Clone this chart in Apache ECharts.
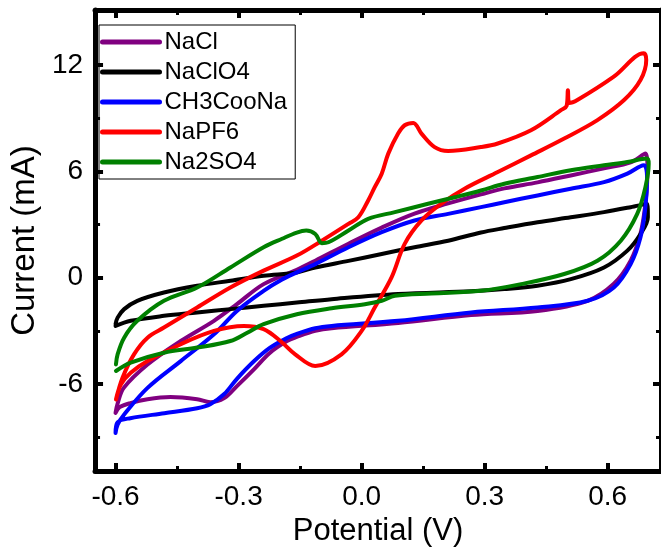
<!DOCTYPE html>
<html>
<head>
<meta charset="utf-8">
<script src="https://cdn.jsdelivr.net/npm/echarts@6/dist/echarts.min.js"></script>
<style>
  html, body { margin: 0; padding: 0; background: #fff; }
  #chart { width: 661px; height: 552px; }
</style>
</head>
<body>
<div id="chart"></div>
<script>
const naclV = [-0.600, -0.595, -0.580, -0.522, -0.441, -0.360, -0.304, -0.239, -0.158, -0.113, -0.032, 0.049, 0.129, 0.211, 0.291, 0.348, 0.429, 0.510, 0.591, 0.656, 0.692,
  0.697, 0.692, 0.680, 0.656, 0.615, 0.551, 0.429, 0.267, 0.089, -0.073, -0.113, -0.158, -0.182, -0.224, -0.262, -0.304, -0.335, -0.369, -0.401, -0.466, -0.522, -0.564, -0.590, -0.600]
const naclI = [-7.62, -7.10, -6.21, -4.89, -3.57, -2.43, -1.49, -0.36, 0.45, 0.96, 1.92, 2.83, 3.62, 4.19, 4.70, 5.04, 5.38, 5.77, 6.17, 6.50, 7.00,
  6.06, 4.19, 2.49, 0.96, -0.34, -1.30, -1.87, -2.10, -2.55, -2.85, -3.00, -3.34, -3.57, -4.24, -5.15, -6.11, -6.79, -7.02, -6.85, -6.73, -6.85, -7.07, -7.30, -7.62]

const naclo4V = [-0.600, -0.595, -0.579, -0.547, -0.482, -0.401, -0.320, -0.239, -0.158, -0.113, -0.032, 0.049, 0.129, 0.211, 0.291, 0.348, 0.429, 0.510, 0.591, 0.656, 0.696,
  0.698, 0.680, 0.648, 0.591, 0.510, 0.429, 0.348, 0.267, 0.089, -0.073, -0.158, -0.239, -0.320, -0.401, -0.482, -0.563, -0.600]
const naclo4I = [-2.62, -2.25, -1.77, -1.30, -0.83, -0.45, -0.17, 0.11, 0.30, 0.58, 0.95, 1.34, 1.72, 2.09, 2.55, 2.80, 3.13, 3.41, 3.70, 3.98, 4.17,
  3.41, 2.47, 1.53, 0.58, -0.08, -0.45, -0.64, -0.76, -0.92, -1.21, -1.40, -1.58, -1.77, -1.96, -2.15, -2.43, -2.72]

const acetateV = [-0.600, -0.595, -0.579, -0.522, -0.441, -0.360, -0.304, -0.239, -0.194, -0.158, -0.113, -0.032, 0.049, 0.129, 0.211, 0.291, 0.348, 0.429, 0.510, 0.591, 0.648, 0.688,
  0.696, 0.692, 0.680, 0.656, 0.615, 0.551, 0.429, 0.267, 0.089, -0.073, -0.113, -0.158, -0.182, -0.224, -0.262, -0.304, -0.335, -0.369, -0.401, -0.481, -0.564, -0.595, -0.600]
const acetateI = [-8.76, -8.28, -7.71, -6.21, -4.70, -3.19, -1.87, -0.74, -0.10, 0.30, 0.77, 1.72, 2.57, 3.23, 3.60, 3.98, 4.26, 4.64, 5.02, 5.39, 5.87, 6.34,
  5.68, 3.98, 2.28, 0.77, -0.55, -1.30, -1.68, -1.96, -2.43, -2.72, -2.85, -3.17, -3.40, -3.96, -4.70, -5.70, -6.56, -7.13, -7.36, -7.64, -7.92, -8.15, -8.76]

const napf6V = [-0.599, -0.583, -0.555, -0.522, -0.482, -0.401, -0.320, -0.239, -0.158, -0.097, -0.032, -0.008, 0.016, 0.032, 0.049, 0.065, 0.089, 0.105, 0.126, 0.146, 0.178, 0.211, 0.291, 0.332, 0.413, 0.486, 0.500, 0.503, 0.506, 0.526, 0.615, 0.688,
  0.694, 0.680, 0.640, 0.575, 0.494, 0.413, 0.332, 0.251, 0.194, 0.146, 0.105, 0.073, 0.032, 0.000, -0.049, -0.113, -0.162, -0.198, -0.239, -0.287, -0.360, -0.441, -0.522, -0.563, -0.587, -0.599]
const napf6I = [-6.87, -5.64, -4.32, -3.38, -2.81, -1.68, -0.55, 0.40, 1.25, 2.09, 3.04, 3.41, 4.36, 5.11, 5.87, 7.00, 8.13, 8.60, 8.73, 8.13, 7.37, 7.15, 7.37, 7.57, 8.32, 9.45, 9.70, 10.58, 9.85, 10.02, 11.34, 12.66,
  12.28, 11.15, 10.02, 8.89, 7.85, 6.90, 5.96, 5.02, 4.17, 3.23, 1.91, 0.02, -1.68, -3.00, -4.32, -4.98, -4.32, -3.57, -2.90, -2.72, -3.00, -3.75, -4.70, -5.36, -6.02, -6.87]

const na2so4V = [-0.599, -0.595, -0.579, -0.547, -0.482, -0.401, -0.320, -0.239, -0.194, -0.158, -0.135, -0.113, -0.097, -0.081, -0.032, 0.016, 0.081, 0.162, 0.227, 0.291, 0.348, 0.429, 0.510, 0.591, 0.648, 0.696,
  0.700, 0.692, 0.672, 0.632, 0.575, 0.494, 0.389, 0.291, 0.170, 0.081, 0.049, 0.008, -0.073, -0.158, -0.239, -0.279, -0.320, -0.401, -0.482, -0.563, -0.599]
const na2so4I = [-4.89, -4.32, -3.38, -2.43, -1.30, -0.55, 0.58, 1.72, 2.20, 2.55, 2.66, 2.47, 1.95, 2.00, 2.66, 3.32, 3.70, 4.17, 4.54, 4.92, 5.30, 5.68, 6.06, 6.34, 6.53, 6.72,
  6.43, 5.11, 3.60, 2.09, 0.96, 0.21, -0.36, -0.74, -0.89, -1.02, -1.30, -1.49, -1.72, -2.06, -2.62, -3.10, -3.57, -3.94, -4.23, -4.79, -5.26]

const names = ["NaCl", "NaClO4", "CH3CooNa", "NaPF6", "Na2SO4"]
const colors = ["#800080", "#000000", "#0000ff", "#ff0000", "#008000"]

const xMajor = [-0.6, -0.3, 0, 0.3, 0.6]
const xMinor = [-0.45, -0.15, 0.15, 0.45]
const yMajor = [-6, 0, 6, 12]
const yMinor = [-9, -3, 3, 9]

const xMin = -0.65, xMax = 0.73
const yMin = -10.9, yMax = 15.1
const font = "Liberation Sans, Arial, sans-serif"

const pairs = (vs, is) => vs.map((v, k) => [v, is[k]])
const loops = [
  pairs(naclV, naclI),
  pairs(naclo4V, naclo4I),
  pairs(acetateV, acetateI),
  pairs(napf6V, napf6I),
  pairs(na2so4V, na2so4I)
]

// frame side: line + major ticks, or minor ticks only
const side = (dim, position, ticks, len, tickWidth, major) => ({
  type: "value",
  position: position,
  min: dim === "x" ? xMin : yMin,
  max: dim === "x" ? xMax : yMax,
  axisLine: { show: major, onZero: false, lineStyle: { color: "#000", width: 5 } },
  axisTick: { show: true, inside: true, length: len, customValues: ticks, lineStyle: { color: "#000", width: tickWidth } },
  axisLabel: { show: false },
  splitLine: { show: false }
})

const bottom = side("x", "bottom", xMajor, 8, 4, true)
bottom.name = "Potential (V)"
bottom.nameLocation = "middle"
bottom.nameGap = 40
bottom.nameTextStyle = { fontSize: 31, color: "#000", fontFamily: font }
bottom.axisLabel = { show: true, customValues: xMajor, formatter: (v) => v.toFixed(1), fontSize: 28, color: "#000", margin: 12, fontFamily: font }

const left = side("y", "left", yMajor, 8, 4, true)
left.name = "Current (mA)"
left.nameLocation = "middle"
left.nameGap = 34
left.nameTextStyle = { fontSize: 33, color: "#000", fontFamily: font }
left.axisLabel = { show: true, customValues: yMajor, fontSize: 28, color: "#000", margin: 12, fontFamily: font }

const chart = echarts.init(document.getElementById("chart"))
chart.setOption({
  animation: false,
  backgroundColor: "#fff",
  grid: { left: 93, right: 0, top: 10, bottom: 81 },
  legend: {
    data: names,
    orient: "vertical",
    left: 99,
    top: 25,
    padding: [5, 8, 5, 1],
    itemGap: 6,
    itemWidth: 57,
    itemHeight: 14,
    borderColor: "#000",
    borderWidth: 1,
    textStyle: { fontSize: 24, color: "#000", fontFamily: font },
    itemStyle: { opacity: 0 },
    lineStyle: { width: 5, cap: "round" }
  },
  xAxis: [
    bottom,
    side("x", "bottom", xMinor, 5, 3, false),
    side("x", "top", xMajor, 8, 4, true),
    side("x", "top", xMinor, 5, 3, false)
  ],
  yAxis: [
    left,
    side("y", "left", yMinor, 5, 3, false),
    side("y", "right", yMajor, 8, 4, true),
    side("y", "right", yMinor, 5, 3, false)
  ],
  series: loops.map((loop, k) => ({
    name: names[k],
    type: "line",
    xAxisIndex: 0,
    yAxisIndex: 0,
    data: loop,
    symbol: "none",
    smooth: 0.35,
    color: colors[k],
    lineStyle: { width: 4, color: colors[k], cap: "round", join: "round" }
  }))
})
</script>
</body>
</html>
